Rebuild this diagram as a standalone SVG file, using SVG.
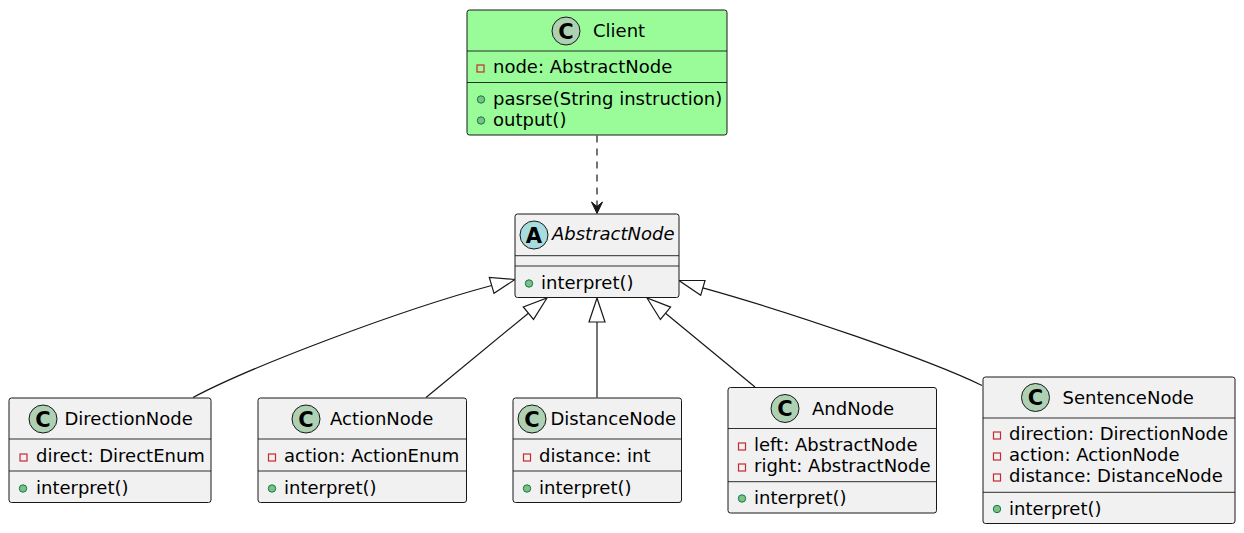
<svg xmlns="http://www.w3.org/2000/svg" width="1244" height="533" viewBox="0 0 1244 533">
<style>
text{font-family:"DejaVu Sans","Liberation Sans",sans-serif;font-size:18px;fill:#000}
.box{fill:#F1F1F1;stroke:#181818;stroke-width:1}
.client{fill:#99FC99}
.sep{stroke:#181818;stroke-width:0.9}
.ic{fill:#ADD1B2;stroke:#181818;stroke-width:1}
.ia{fill:#A9DCDF;stroke:#181818;stroke-width:1}
.il{font-size:21px;font-weight:bold;text-anchor:middle}
.priv{fill:none;stroke:#C82930;stroke-width:1.2}
.pub{fill:#84BE84;stroke:#038048;stroke-width:1}
.edge{fill:none;stroke:#181818;stroke-width:1.2}
.tri{fill:none;stroke:#181818;stroke-width:1.2}
.it{font-style:italic}
</style>
<g id="connectors">
<line class="edge" x1="597" y1="135.5" x2="597" y2="207" stroke-dasharray="7,6"/>
<polygon points="597,213.5 591.5,202 597,206.5 602.5,202" fill="#181818" stroke="#181818" stroke-width="1"/>
<path class="edge" d="M193,397.5 C250,367 400,310 491.7,285.5"/>
<polygon class="tri" points="515,279.5 489.3,277.3 494,293.3"/>
<line class="edge" x1="426" y1="397.5" x2="528.4" y2="313.2"/>
<polygon class="tri" points="547,298 533.5,319.4 523.3,307"/>
<line class="edge" x1="597" y1="397.5" x2="597" y2="322"/>
<polygon class="tri" points="597,298 589,322 605,322"/>
<line class="edge" x1="755" y1="387" x2="665.5" y2="313.3"/>
<polygon class="tri" points="647,298 660.4,319.5 670.6,307.1"/>
<path class="edge" d="M982,385.5 C930,360 790,312 702.8,287.8"/>
<polygon class="tri" points="679,280.5 705,280.5 700.7,295.3"/>
</g>
<g id="Client">
<rect class="box client" x="467" y="10" width="260" height="125" rx="2.5"/>
<circle class="ic" cx="566" cy="31" r="14"/>
<text class="il" x="566" y="38.5">C</text>
<text x="593" y="37">Client</text>
<line class="sep" x1="467" y1="51" x2="727" y2="51"/>
<rect class="priv" x="477" y="65" width="7" height="7"/>
<text x="493" y="73">node: AbstractNode</text>
<line class="sep" x1="467" y1="82.5" x2="727" y2="82.5"/>
<circle class="pub" cx="481" cy="99.5" r="3.7"/>
<text x="493" y="105">pasrse(String instruction)</text>
<circle class="pub" cx="481" cy="120.5" r="3.7"/>
<text x="493" y="126">output()</text>
</g>
<g id="AbstractNode">
<rect class="box" x="515" y="214" width="164" height="83.5" rx="2.5"/>
<circle class="ia" cx="534" cy="235" r="14"/>
<text class="il" x="534" y="242.5">A</text>
<text class="it" x="552" y="240">AbstractNode</text>
<line class="sep" x1="515" y1="255.7" x2="679" y2="255.7"/>
<line class="sep" x1="515" y1="266" x2="679" y2="266"/>
<circle class="pub" cx="529" cy="283.5" r="3.7"/>
<text x="541" y="289">interpret()</text>
</g>
<g id="DirectionNode">
<rect class="box" x="9" y="398" width="202" height="104.5" rx="2.5"/>
<circle class="ic" cx="43" cy="419" r="14"/>
<text class="il" x="43" y="426.5">C</text>
<text x="64.5" y="425">DirectionNode</text>
<line class="sep" x1="9" y1="439" x2="211" y2="439"/>
<rect class="priv" x="20" y="454" width="7" height="7"/>
<text x="36" y="462">direct: DirectEnum</text>
<line class="sep" x1="9" y1="471" x2="211" y2="471"/>
<circle class="pub" cx="23" cy="488.5" r="3.7"/>
<text x="36" y="494">interpret()</text>
</g>
<g id="ActionNode">
<rect class="box" x="258" y="398" width="208.5" height="104.5" rx="2.5"/>
<circle class="ic" cx="306" cy="419" r="14"/>
<text class="il" x="306" y="426.5">C</text>
<text x="330" y="425">ActionNode</text>
<line class="sep" x1="258" y1="439" x2="466.5" y2="439"/>
<rect class="priv" x="268.5" y="454" width="7" height="7"/>
<text x="284" y="462">action: ActionEnum</text>
<line class="sep" x1="258" y1="471" x2="466.5" y2="471"/>
<circle class="pub" cx="272" cy="488.5" r="3.7"/>
<text x="284" y="494">interpret()</text>
</g>
<g id="DistanceNode">
<rect class="box" x="513" y="398" width="168.5" height="104.5" rx="2.5"/>
<circle class="ic" cx="532" cy="419" r="14"/>
<text class="il" x="532" y="426.5">C</text>
<text x="550.5" y="425">DistanceNode</text>
<line class="sep" x1="513" y1="439" x2="681.5" y2="439"/>
<rect class="priv" x="523.5" y="454" width="7" height="7"/>
<text x="539" y="462">distance: int</text>
<line class="sep" x1="513" y1="471" x2="681.5" y2="471"/>
<circle class="pub" cx="527" cy="488.5" r="3.7"/>
<text x="539" y="494">interpret()</text>
</g>
<g id="AndNode">
<rect class="box" x="728" y="387.5" width="208.5" height="125.5" rx="2.5"/>
<circle class="ic" cx="785" cy="408.5" r="14"/>
<text class="il" x="785" y="416">C</text>
<text x="812" y="414.5">AndNode</text>
<line class="sep" x1="728" y1="428.5" x2="936.5" y2="428.5"/>
<rect class="priv" x="738.5" y="443" width="7" height="7"/>
<text x="754" y="451">left: AbstractNode</text>
<rect class="priv" x="738.5" y="464" width="7" height="7"/>
<text x="754" y="472">right: AbstractNode</text>
<line class="sep" x1="728" y1="481.7" x2="936.5" y2="481.7"/>
<circle class="pub" cx="742" cy="498.5" r="3.7"/>
<text x="754" y="504">interpret()</text>
</g>
<g id="SentenceNode">
<rect class="box" x="983" y="377" width="252" height="146.5" rx="2.5"/>
<circle class="ic" cx="1035.5" cy="397.5" r="14"/>
<text class="il" x="1035.5" y="405">C</text>
<text x="1062.5" y="404">SentenceNode</text>
<line class="sep" x1="983" y1="418" x2="1235" y2="418"/>
<rect class="priv" x="993.5" y="432" width="7" height="7"/>
<text x="1009" y="440">direction: DirectionNode</text>
<rect class="priv" x="993.5" y="453" width="7" height="7"/>
<text x="1009" y="461">action: ActionNode</text>
<rect class="priv" x="993.5" y="474" width="7" height="7"/>
<text x="1009" y="482">distance: DistanceNode</text>
<line class="sep" x1="983" y1="492.3" x2="1235" y2="492.3"/>
<circle class="pub" cx="997" cy="509" r="3.7"/>
<text x="1009" y="514.5">interpret()</text>
</g>
</svg>
